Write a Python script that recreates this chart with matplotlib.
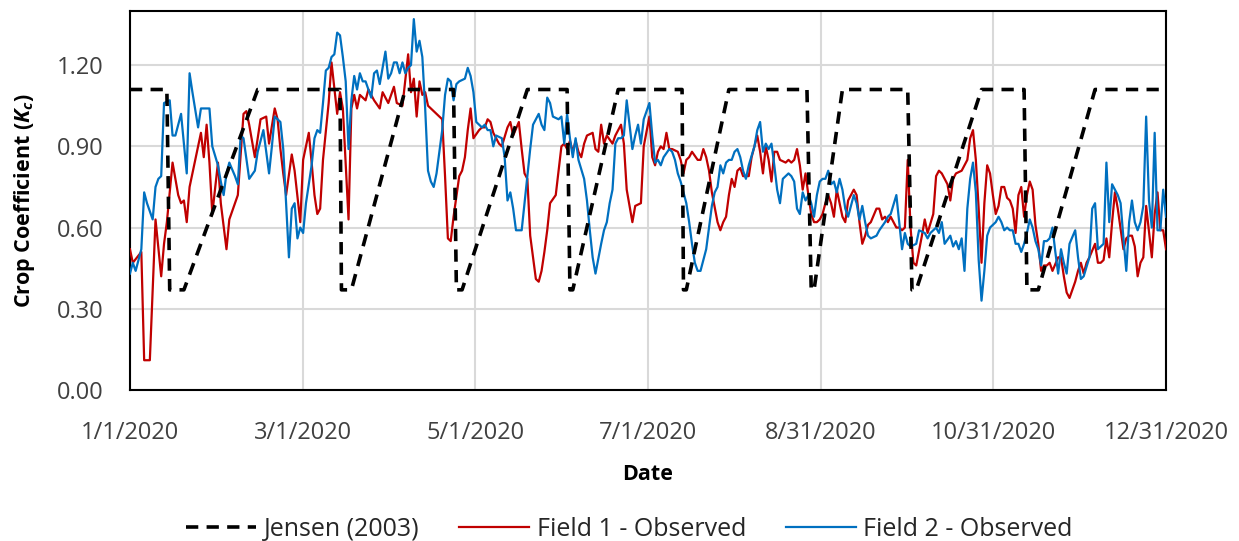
import matplotlib
matplotlib.use("Agg")
import matplotlib.pyplot as plt

plt.rcParams['font.family'] = ['Open Sans', 'DejaVu Sans']
plt.rcParams['mathtext.fontset'] = 'custom'
plt.rcParams['mathtext.rm'] = 'Open Sans:bold'
plt.rcParams['mathtext.it'] = 'Open Sans:bold:italic'
plt.rcParams['mathtext.bf'] = 'Open Sans:bold'

# ---- data (day of year 2020, 0 = 1/1/2020) ----
jensen_day = [0, 13, 14, 19, 45, 74, 74.5, 78, 97, 114, 115, 117, 140, 154, 155, 156,
              172, 194.5, 195, 196, 211, 238.5, 240, 241, 251, 274, 275.5, 277, 300,
              315, 316, 320, 340, 365]
jensen_kc = [1.11, 1.11, 0.37, 0.37, 1.11, 1.11, 0.37, 0.37, 1.11, 1.11, 0.37, 0.37, 1.11,
             1.11, 0.37, 0.37, 1.11, 1.11, 0.37, 0.37, 1.11, 1.11, 0.37, 0.37, 1.11, 1.11,
             0.37, 0.37, 1.11, 1.11, 0.37, 0.37, 1.11, 1.11]

field1_day = [0, 1, 4, 5, 7, 9, 11, 12, 13, 15, 17, 18, 19, 20, 21, 23, 25, 26, 27, 28, 29, 31,
              32, 34, 35, 37, 38, 40, 41, 42, 44, 45, 46, 48, 49, 51, 52, 53, 54, 55, 57, 58,
              60, 61, 63, 64, 65, 66, 67, 68, 70, 71, 73, 74, 75, 77, 78, 79, 80, 81, 83, 84,
              86, 88, 89, 91, 93, 94, 96, 98, 99, 100, 101, 102, 103, 104, 105, 107, 108, 110,
              111, 112, 113, 114, 116, 117, 118, 119, 120, 121, 123, 124, 125, 126, 127, 128,
              130, 131, 133, 134, 135, 137, 138, 139, 140, 141, 143, 144, 145, 146, 147, 148,
              150, 151, 152, 153, 154, 155, 156, 157, 158, 159, 160, 161, 163, 164, 165, 166,
              167, 168, 170, 171, 172, 173, 174, 175, 177, 178, 180, 181, 183, 184, 185, 186,
              187, 188, 189, 190, 191, 193, 194, 195, 196, 197, 198, 200, 201, 202, 203, 204,
              205, 207, 208, 209, 210, 211, 212, 213, 214, 215, 216, 218, 219, 220, 221, 222,
              223, 224, 225, 226, 227, 228, 229, 231, 232, 233, 234, 235, 236, 237, 238, 239,
              240, 241, 242, 243, 244, 245, 246, 247, 248, 249, 250, 251, 252, 253, 255, 256,
              257, 258, 259, 260, 261, 263, 264, 265, 266, 267, 268, 270, 271, 272, 273, 274,
              275, 276, 277, 279, 280, 281, 283, 284, 285, 286, 287, 288, 289, 290, 291, 293,
              294, 295, 296, 297, 298, 299, 300, 301, 302, 303, 304, 305, 306, 307, 308, 309,
              310, 311, 312, 313, 314, 315, 316, 317, 318, 319, 320, 321, 322, 323, 324, 325,
              327, 328, 329, 330, 331, 333, 334, 335, 336, 337, 338, 340, 341, 342, 343, 344,
              345, 346, 347, 348, 350, 351, 352, 353, 354, 355, 356, 357, 358, 360, 361, 362,
              363, 364, 365]
field1_kc = [0.52, 0.47, 0.51, 0.11, 0.11, 0.63, 0.42, 0.54, 0.62, 0.84, 0.72, 0.69, 0.70, 0.62,
             0.75, 0.85, 0.95, 0.86, 0.98, 0.84, 0.65, 0.84, 0.69, 0.52, 0.63, 0.69, 0.72, 1.02,
             1.03, 0.98, 0.86, 0.93, 1.00, 1.01, 0.91, 1.04, 1.00, 0.89, 0.80, 0.72, 0.87, 0.81,
             0.62, 0.85, 0.95, 0.84, 0.72, 0.65, 0.67, 0.85, 1.06, 1.21, 1.02, 1.10, 1.04, 0.63,
             1.04, 1.09, 1.04, 1.09, 1.07, 1.11, 1.07, 1.04, 1.10, 1.06, 1.12, 1.06, 1.05, 1.24,
             1.10, 1.15, 1.01, 1.14, 1.09, 1.10, 1.05, 1.03, 1.02, 1.00, 0.79, 0.56, 0.55, 0.64,
             0.79, 0.81, 0.86, 0.96, 1.04, 0.93, 0.96, 0.97, 0.97, 1.00, 0.99, 0.95, 0.91, 0.90,
             0.97, 0.99, 0.94, 0.99, 0.89, 0.80, 0.78, 0.57, 0.41, 0.40, 0.44, 0.51, 0.59, 0.69,
             0.72, 0.81, 0.90, 0.91, 0.89, 0.92, 0.88, 0.92, 0.88, 0.86, 0.91, 0.94, 0.95, 0.89,
             0.88, 0.98, 0.91, 0.94, 0.91, 0.94, 0.96, 0.98, 0.91, 0.74, 0.62, 0.68, 0.69, 0.90,
             1.01, 0.86, 0.83, 0.88, 0.90, 0.89, 0.95, 0.89, 0.89, 0.88, 0.85, 0.80, 0.85, 0.86,
             0.88, 0.85, 0.85, 0.89, 0.86, 0.81, 0.73, 0.62, 0.59, 0.62, 0.64, 0.72, 0.78, 0.75,
             0.81, 0.82, 0.79, 0.79, 0.86, 0.90, 0.94, 0.88, 0.80, 0.90, 0.85, 0.77, 0.88, 0.88,
             0.85, 0.84, 0.85, 0.84, 0.85, 0.89, 0.83, 0.74, 0.80, 0.72, 0.65, 0.62, 0.62, 0.63,
             0.65, 0.69, 0.72, 0.69, 0.64, 0.74, 0.69, 0.64, 0.62, 0.70, 0.74, 0.72, 0.62, 0.54,
             0.57, 0.61, 0.62, 0.67, 0.67, 0.63, 0.64, 0.62, 0.64, 0.60, 0.60, 0.59, 0.60, 0.85,
             0.60, 0.47, 0.46, 0.57, 0.63, 0.58, 0.65, 0.79, 0.81, 0.80, 0.78, 0.76, 0.70, 0.78,
             0.80, 0.81, 0.83, 0.85, 0.93, 0.96, 0.85, 0.67, 0.47, 0.69, 0.83, 0.80, 0.72, 0.65,
             0.68, 0.75, 0.75, 0.71, 0.70, 0.67, 0.58, 0.72, 0.75, 0.64, 0.72, 0.77, 0.74, 0.61,
             0.54, 0.44, 0.46, 0.46, 0.47, 0.44, 0.49, 0.49, 0.42, 0.36, 0.34, 0.40, 0.44, 0.47,
             0.43, 0.47, 0.49, 0.54, 0.47, 0.47, 0.48, 0.56, 0.49, 0.62, 0.73, 0.67, 0.52, 0.56,
             0.57, 0.57, 0.53, 0.42, 0.47, 0.49, 0.68, 0.49, 0.65, 0.73, 0.59, 0.59, 0.52]

field2_day = [0, 1, 2, 4, 5, 6, 8, 9, 10, 11, 12, 14, 15, 16, 18, 20, 21, 22, 24, 25, 28, 29, 31,
              32, 33, 34, 35, 37, 38, 39, 40, 42, 44, 45, 47, 49, 50, 51, 53, 54, 55, 56, 57, 58,
              59, 60, 61, 62, 64, 65, 66, 67, 68, 69, 70, 71, 72, 73, 74, 75, 76, 77, 78, 79, 80,
              81, 82, 83, 85, 86, 87, 88, 89, 90, 91, 92, 93, 94, 95, 96, 97, 98, 99, 100, 101,
              102, 103, 104, 105, 106, 107, 108, 110, 111, 112, 113, 114, 115, 116, 118, 119,
              120, 121, 122, 124, 125, 126, 127, 128, 129, 131, 132, 133, 134, 135, 136, 138,
              139, 140, 141, 142, 144, 145, 146, 147, 148, 149, 151, 152, 153, 154, 155, 156,
              157, 158, 160, 161, 162, 163, 164, 166, 167, 168, 169, 170, 171, 172, 173, 174,
              175, 177, 178, 179, 180, 181, 183, 184, 185, 186, 187, 188, 190, 191, 192, 193,
              194, 196, 197, 198, 199, 200, 201, 203, 204, 205, 206, 207, 208, 209, 210, 211,
              212, 213, 214, 215, 216, 217, 218, 220, 221, 222, 223, 224, 225, 226, 227, 228,
              229, 230, 231, 232, 233, 234, 235, 236, 237, 238, 239, 240, 241, 242, 243, 244,
              245, 246, 247, 248, 249, 250, 251, 252, 253, 255, 256, 257, 258, 259, 260, 261,
              263, 264, 266, 267, 268, 270, 271, 272, 273, 274, 275, 277, 278, 280, 281, 282,
              283, 284, 285, 286, 287, 289, 290, 291, 292, 293, 294, 295, 296, 297, 298, 299,
              300, 301, 302, 303, 305, 306, 307, 308, 309, 310, 311, 312, 313, 314, 315, 316,
              317, 318, 319, 320, 321, 322, 323, 324, 325, 326, 327, 328, 329, 330, 331, 333,
              334, 335, 336, 338, 339, 340, 341, 342, 343, 344, 345, 346, 347, 348, 349, 350,
              351, 352, 353, 354, 355, 356, 357, 358, 359, 360, 361, 362, 363, 364, 365]
field2_kc = [0.43, 0.47, 0.44, 0.52, 0.73, 0.69, 0.63, 0.75, 0.78, 0.79, 1.06, 1.07, 0.94, 0.94,
             1.02, 0.80, 1.17, 1.10, 0.97, 1.04, 1.04, 0.90, 0.83, 0.77, 0.72, 0.80, 0.84, 0.79,
             0.76, 0.94, 0.93, 0.78, 0.81, 0.88, 0.96, 0.80, 0.90, 1.01, 0.99, 0.89, 0.69, 0.49,
             0.67, 0.69, 0.56, 0.60, 0.58, 0.69, 0.83, 0.93, 0.96, 0.95, 1.06, 1.18, 1.19, 1.23,
             1.24, 1.32, 1.31, 1.23, 1.14, 0.89, 1.07, 1.16, 1.11, 1.17, 1.14, 1.14, 1.08, 1.17,
             1.18, 1.13, 1.19, 1.25, 1.15, 1.17, 1.21, 1.21, 1.17, 1.21, 1.17, 1.19, 1.20, 1.37,
             1.25, 1.29, 1.23, 1.04, 0.81, 0.77, 0.75, 0.80, 0.96, 1.09, 1.15, 1.14, 1.07, 1.13,
             1.14, 1.15, 1.19, 1.16, 1.10, 0.99, 0.97, 0.98, 0.96, 0.96, 0.90, 0.94, 0.93, 0.86,
             0.70, 0.73, 0.67, 0.59, 0.59, 0.69, 0.79, 0.89, 0.98, 1.02, 0.98, 0.96, 1.08, 1.06,
             1.01, 1.00, 1.01, 0.91, 1.02, 0.93, 0.86, 0.93, 0.85, 0.78, 0.70, 0.59, 0.49, 0.43,
             0.54, 0.59, 0.62, 0.69, 0.74, 0.91, 0.93, 0.93, 0.94, 1.07, 0.89, 0.94, 0.98, 0.91,
             1.00, 1.06, 0.94, 0.84, 0.85, 0.83, 0.86, 0.89, 0.88, 0.85, 0.80, 0.77, 0.69, 0.62,
             0.54, 0.47, 0.44, 0.44, 0.52, 0.60, 0.68, 0.73, 0.75, 0.83, 0.80, 0.84, 0.85, 0.85,
             0.88, 0.89, 0.86, 0.81, 0.78, 0.83, 0.90, 0.96, 0.99, 0.88, 0.91, 0.89, 0.91, 0.83,
             0.74, 0.69, 0.78, 0.79, 0.80, 0.79, 0.77, 0.67, 0.65, 0.73, 0.70, 0.72, 0.69, 0.64,
             0.72, 0.77, 0.78, 0.78, 0.81, 0.76, 0.77, 0.73, 0.78, 0.74, 0.67, 0.64, 0.72, 0.69,
             0.63, 0.68, 0.62, 0.57, 0.56, 0.57, 0.59, 0.62, 0.64, 0.65, 0.72, 0.62, 0.52, 0.58,
             0.54, 0.53, 0.54, 0.59, 0.58, 0.56, 0.58, 0.59, 0.60, 0.58, 0.62, 0.54, 0.57, 0.53,
             0.55, 0.52, 0.56, 0.44, 0.67, 0.78, 0.84, 0.73, 0.48, 0.33, 0.44, 0.57, 0.60, 0.62,
             0.64, 0.62, 0.59, 0.60, 0.59, 0.59, 0.54, 0.54, 0.51, 0.54, 0.58, 0.63, 0.60, 0.55,
             0.52, 0.46, 0.55, 0.55, 0.56, 0.60, 0.51, 0.43, 0.52, 0.47, 0.43, 0.54, 0.59, 0.49,
             0.41, 0.42, 0.49, 0.67, 0.69, 0.52, 0.53, 0.54, 0.84, 0.62, 0.76, 0.74, 0.72, 0.69,
             0.56, 0.44, 0.62, 0.70, 0.62, 0.59, 0.62, 0.68, 1.01, 0.70, 0.60, 0.95, 0.59, 0.59,
             0.74, 0.64]

x_tick_days = [0, 60.83, 121.67, 182.5, 243.33, 304.17, 365]
x_tick_labels = ['1/1/2020', '3/1/2020', '5/1/2020', '7/1/2020', '8/31/2020',
                 '10/31/2020', '12/31/2020']
y_ticks = [0.00, 0.30, 0.60, 0.90, 1.20]

fig = plt.figure(figsize=(12.39, 5.41), dpi=100)
ax = fig.add_axes([0.1049, 0.2791, 0.8362, 0.7006])

ax.plot(field1_day, field1_kc, color='#C00000', lw=1.6, label='Field 1 - Observed', zorder=3)
ax.plot(field2_day, field2_kc, color='#0070C0', lw=1.6, label='Field 2 - Observed', zorder=4)
ax.plot(jensen_day, jensen_kc, color='black', lw=2.6, ls=(0, (3.4, 2.3)),
        label='Jensen (2003)', zorder=5)

ax.set_xlim(0, 365)
ax.set_ylim(0, 1.40)
ax.set_xticks(x_tick_days)
ax.set_xticklabels(x_tick_labels)
ax.set_yticks(y_ticks)
ax.set_yticklabels([f'{v:.2f}' for v in y_ticks])
ax.grid(True, color='#D9D9D9', lw=1.5, zorder=0)
ax.set_axisbelow(True)
ax.tick_params(length=0, labelsize=17, colors='#404040')
ax.tick_params(axis='y', pad=19)
ax.tick_params(axis='x', pad=22)
for s in ax.spines.values():
    s.set_color('black')
    s.set_linewidth(1.5)

ax.set_xlabel('Date', fontsize=15.5, fontweight='bold', labelpad=14)
ax.set_ylabel(r'Crop Coefficient ($K_c$)', fontsize=15.5, fontweight='bold', labelpad=14)

h, l = ax.get_legend_handles_labels()
order = [2, 0, 1]
fig.legend([h[i] for i in order], [l[i] for i in order], loc='center',
           bbox_to_anchor=(0.508, 0.022), ncol=3, frameon=False, fontsize=18,
           handlelength=2.8, handletextpad=0.3, columnspacing=1.6, labelcolor='#262626')

fig.savefig('out.png', dpi=100)
